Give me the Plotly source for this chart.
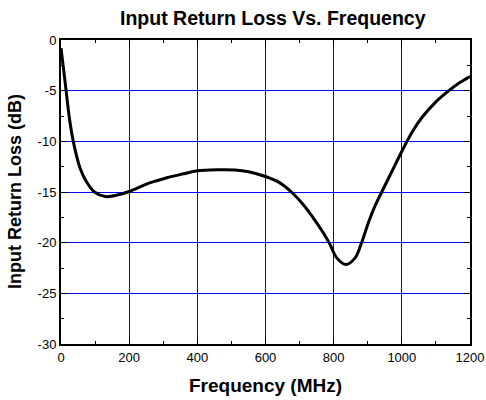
import plotly.graph_objects as go

freq_mhz = [0, 8, 15, 25, 36, 56, 75, 98, 130, 165, 200, 260, 310, 360, 400, 460, 510,
            550, 600, 640, 676, 711, 740, 769, 789, 809, 836, 863, 882, 902, 921, 941,
            966, 1002, 1030, 1060, 1100, 1138, 1170, 1200]
return_loss_db = [-0.8, -3.0, -5.0, -7.8, -10.0, -12.65, -14.0, -15.0, -15.45, -15.3,
                  -14.95, -14.1, -13.6, -13.2, -12.9, -12.8, -12.82, -13.0, -13.47, -14.05,
                  -15.0, -16.25, -17.55, -19.0, -20.15, -21.5, -22.15, -21.5, -20.0, -18.0,
                  -16.4, -15.0, -13.3, -10.85, -9.1, -7.6, -6.1, -5.0, -4.2, -3.6]

x_tick_vals = [0, 200, 400, 600, 800, 1000, 1200]
x_tick_text = ["0", "200", "400", "600", "800", "1000", "1200"]
y_tick_vals = [0, -5, -10, -15, -20, -25, -30]
y_tick_text = ["0", "-5", "-10", "-15", "-20", "-25", "-30"]

W, H = 486, 400
L, R, T, B = 61, 16, 40, 56
FONT = "Liberation Sans, Arial, sans-serif"

fig = go.Figure()
fig.add_trace(go.Scatter(
    x=freq_mhz, y=return_loss_db, mode="lines",
    line=dict(color="black", width=3, shape="spline", smoothing=1.0),
    showlegend=False,
))

axis_common = dict(
    showline=True, linecolor="black", linewidth=2, mirror="ticks",
    ticks="inside", ticklen=6, tickwidth=1, tickcolor="black",
    showgrid=True, gridcolor="blue", gridwidth=1,
    zeroline=False, automargin=False,
    tickfont=dict(family=FONT, size=13, color="black"),
)

fig.update_xaxes(
    range=[0, 1200], tickmode="array", tickvals=x_tick_vals, ticktext=x_tick_text,
    minor=dict(dtick=100, tick0=0, ticks="inside", ticklen=3, tickcolor="black", showgrid=False),
    **axis_common,
)
fig.update_yaxes(
    range=[-30, 0], tickmode="array", tickvals=y_tick_vals, ticktext=y_tick_text,
    minor=dict(dtick=2.5, tick0=0, ticks="inside", ticklen=3, tickcolor="black", showgrid=False),
    **axis_common,
)

pw = W - L - R
ph = H - T - B

def px_x(px):
    return (px - L) / pw

def px_y(py):
    return (H - B - py) / ph

fig.update_layout(
    width=W, height=H,
    margin=dict(l=L, r=R, t=T, b=B),
    paper_bgcolor="white", plot_bgcolor="white",
    annotations=[
        dict(text="<b>Input Return Loss Vs. Frequency</b>", xref="paper", yref="paper",
             x=px_x(273), y=px_y(18), xanchor="center", yanchor="middle", showarrow=False,
             font=dict(family=FONT, size=19.5, color="black")),
        dict(text="<b>Frequency (MHz)</b>", xref="paper", yref="paper",
             x=px_x(265), y=px_y(385), xanchor="center", yanchor="middle", showarrow=False,
             font=dict(family=FONT, size=19, color="black")),
        dict(text="<b>Input Return Loss (dB)</b>", xref="paper", yref="paper",
             x=px_x(15), y=px_y(192), xanchor="center", yanchor="middle", showarrow=False,
             textangle=-90, font=dict(family=FONT, size=18, color="black")),
    ],
)

fig.write_html("out.html")
